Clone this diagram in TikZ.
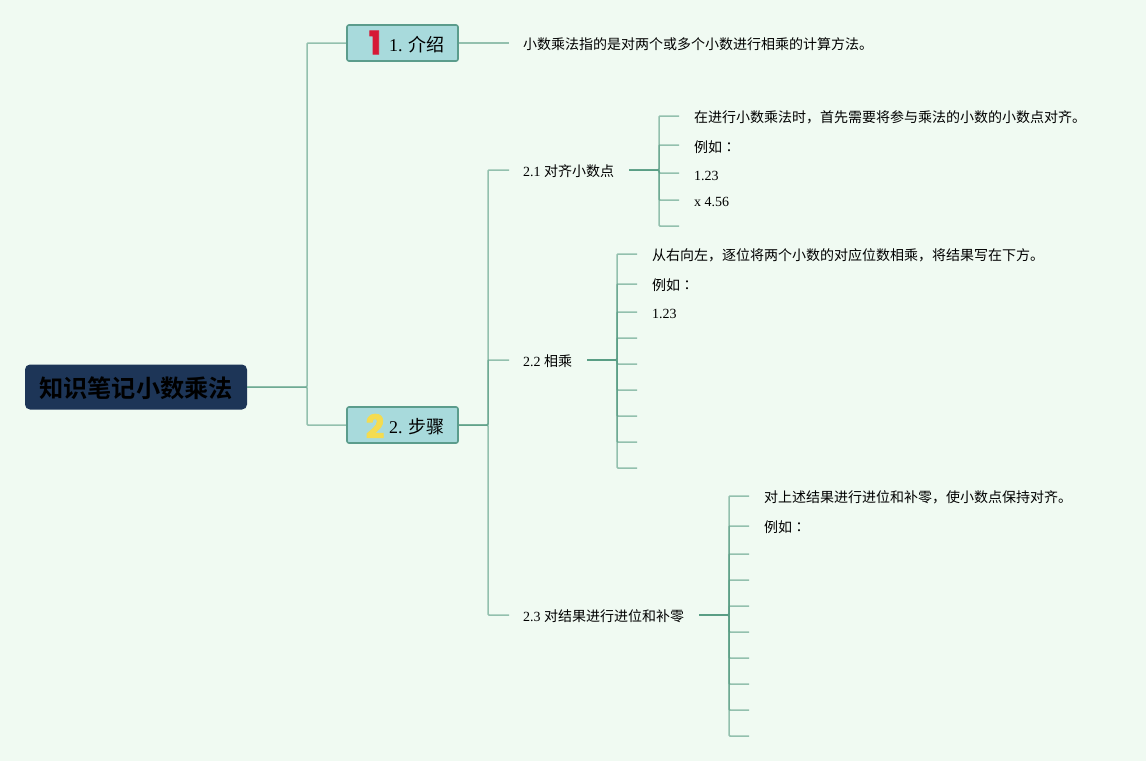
\documentclass[tikz,border=0pt]{standalone}
\usepackage{fontspec}
\setmainfont{Liberation Serif}
\newfontfamily\cjk{Noto Sans CJK SC}[BoldFont={Noto Sans CJK SC Bold}]
\newfontfamily\cjkc{Noto Sans CJK TC}
\newfontfamily\icon{Poppins}[BoldFeatures={FakeBold=2.5}]
\newcommand{\cj}[1]{{\cjk #1}}
\newcommand{\colonmark}{{\cjkc ：}}
\definecolor{bgc}{HTML}{F0FAF2}
\definecolor{linec}{HTML}{5A9E85}
\definecolor{rootc}{HTML}{1D3557}
\definecolor{topc}{HTML}{A8DADC}
\definecolor{topb}{HTML}{5B9C8C}
\tikzset{
  link/.style={draw=linec,line width=1.5pt,opacity=.62,rounded corners=1pt},
  rootbox/.style={fill=rootc,rounded corners=5pt,minimum width=222pt,minimum height=45pt,inner sep=0pt},
  roottxt/.style={inner sep=0pt,font=\fontsize{24.2}{24.2}\selectfont\cjk\bfseries,text=black},
  topbox/.style={fill=topc,draw=topb,line width=1.6pt,rounded corners=2pt,minimum width=111pt,minimum height=36pt,inner sep=0pt},
  lbl/.style={anchor=west,inner sep=0pt,font=\fontsize{14}{14}\selectfont,text=black},
  toplbl/.style={anchor=west,inner sep=0pt,font=\fontsize{18}{18}\selectfont,text=black},
  numicon/.style={inner sep=0pt,font=\fontsize{32}{32}\selectfont\icon\bfseries}
}
\begin{document}
\begin{tikzpicture}[x=1pt,y=-1pt]
\useasboundingbox (0,0) rectangle (1146,761);
\fill[bgc] (0,0) rectangle (1146,761);
\node[rootbox] (root) at (136,387) {};
\node[roottxt] (roottext) at (136,388.5) {知识笔记小数乘法};
\node[topbox] (t1) at (402.5,43) {};
\node[topbox] (t2) at (402.5,425) {};
\node[numicon,text={rgb,255:red,214;green,24;blue,54}] (n1) at (375,42.5) {1};
\node[numicon,text={rgb,255:red,244;green,220;blue,80}] (n2) at (375,426) {2};
\node[toplbl] (l1) at (389,44.5) {1. \cj{介绍}};
\node[toplbl] (l2) at (389,426.5) {2. \cj{步骤}};
\coordinate (r) at (root.east);
\coordinate (e1) at (t1.east);
\coordinate (e2) at (t2.east);
\coordinate (i1) at (509,43);
\node[lbl] (a0) at (523,44) {\cj{小数乘法指的是对两个或多个小数进行相乘的计算方法。}};
\coordinate (s1) at (509,170);
\coordinate (s2) at (509,360);
\coordinate (s3) at (509,615);
\node[lbl] (b1) at (523,171) {2.1 \cj{对齐小数点}};
\node[lbl] (b2) at (523,361) {2.2 \cj{相乘}};
\node[lbl] (b3) at (523,616) {2.3 \cj{对结果进行进位和补零}};
\coordinate (p1) at (629,170);
\coordinate (p2) at (587,360);
\coordinate (p3) at (699,615);
\draw[link] (r) -- (307,387) |- (t1.west);
\draw[link] (r) -- (307,387) |- (t2.west);
\draw[link] (e1) -- (i1);
\draw[link] (e2) -- (488,425) |- (s1);
\draw[link] (e2) -- (488,425) |- (s2);
\draw[link] (e2) -- (488,425) |- (s3);
\foreach \y in {116,145,173,200,226}{\coordinate (c) at (679,\y); \draw[link] (p1) -- (659,170) |- (c);}
\node[lbl] (c1) at (694,117) {\cj{在进行小数乘法时，首先需要将参与乘法的小数的小数点对齐。}};
\node[lbl] (c2) at (694,147) {\cj{例如}\colonmark};
\node[lbl] (c3) at (694,175.5) {1.23};
\node[lbl] (c4) at (694,201.5) {x 4.56};
\foreach \y in {254,284,312,338,364,390,416,442,468}{\coordinate (c) at (637,\y); \draw[link] (p2) -- (617,360) |- (c);}
\node[lbl] (d1) at (652,255) {\cj{从右向左，逐位将两个小数的对应位数相乘，将结果写在下方。}};
\node[lbl] (d2) at (652,285) {\cj{例如}\colonmark};
\node[lbl] (d3) at (652,313.5) {1.23};
\foreach \y in {496,526,554,580,606,632,658,684,710,736}{\coordinate (c) at (749,\y); \draw[link] (p3) -- (729,615) |- (c);}
\node[lbl] (f1) at (764,497) {\cj{对上述结果进行进位和补零，使小数点保持对齐。}};
\node[lbl] (f2) at (764,527) {\cj{例如}\colonmark};
\end{tikzpicture}
\end{document}
